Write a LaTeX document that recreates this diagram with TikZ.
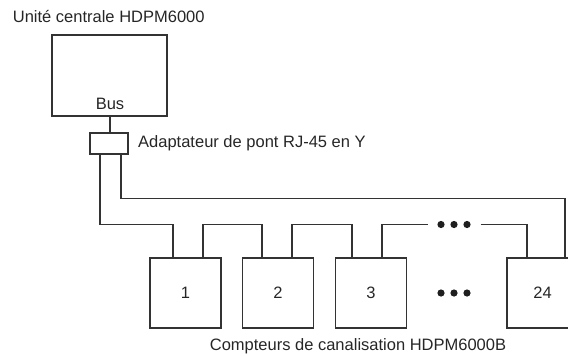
\documentclass[tikz,border=0pt]{standalone}
\usepackage{fontspec}
\setmainfont{Liberation Sans}
\begin{document}
\begin{tikzpicture}[x=1pt,y=-1pt,
  line/.style={draw=black!80,line width=1.2pt},
  unitbox/.style={line,rectangle,inner sep=0pt,minimum width=115pt,minimum height=81pt},
  adaptbox/.style={line,rectangle,inner sep=0pt,minimum width=38pt,minimum height=21pt},
  meterbox/.style={line,rectangle,inner sep=0pt,minimum width=71pt,minimum height=70pt},
  lbl/.style={font=\fontsize{16.5}{19}\selectfont,text=black!85,inner sep=0pt},
  dot/.style={fill=black!88,draw=none}]
\useasboundingbox (0,0) rectangle (568,356);
\clip (0,0) rectangle (568,356);
% nodes
\node[unitbox] (cpu) at (109.5,75.5) {};
\node[lbl] (bus) at (110,104) {Bus};
\node[lbl,anchor=base west] (title) at (12.7,22.3) {Unité centrale HDPM6000};
\node[adaptbox] (adapt) at (109,143.5) {};
\node[lbl,anchor=west] (adlbl) at (138,143.5) {Adaptateur de pont RJ-45 en Y};
\node[meterbox] (m1) at (185.5,293) {};
\node[meterbox] (m2) at (278,293) {};
\node[meterbox] (m3) at (371,293) {};
\node[meterbox] (m24) at (542.5,293) {};
\node[lbl] (n1) at (m1.center) {1};
\node[lbl] (n2) at (m2.center) {2};
\node[lbl] (n3) at (m3.center) {3};
\node[lbl] (n24) at (m24.center) {24};
\node[lbl] (cap) at (358,346.5) {Compteurs de canalisation HDPM6000B};
% coordinates for the gap in the chain
\coordinate (gapL) at (427.7,224.5);
\coordinate (gapR) at (480.7,224.5);
% connectors
\draw[line] (cpu.south -| 110,0) -- (adapt.north -| 110,0);
\draw[line] (adapt.south -| 100,0) -- (100,224.5) -- (173,224.5) -- (m1.north -| 173,0);
\draw[line] (adapt.south -| 121,0) -- (121,198.5) -- (565,198.5) -- (m24.north -| 565,0);
\draw[line] (m1.north -| 203,0) -- (203,224.5) -- (262,224.5) -- (m2.north -| 262,0);
\draw[line] (m2.north -| 292,0) -- (292,224.5) -- (352,224.5) -- (m3.north -| 352,0);
\draw[line] (m3.north -| 382,0) -- (382,224.5) -- (gapL);
\draw[line] (gapR) -- (527,224.5) -- (m24.north -| 527,0);
% dots
\foreach \xx in {441,454,467}{
  \fill[dot] (\xx,224.5) circle (3.6pt);
  \fill[dot] (\xx,293) circle (3.6pt);
}
\end{tikzpicture}
\end{document}
